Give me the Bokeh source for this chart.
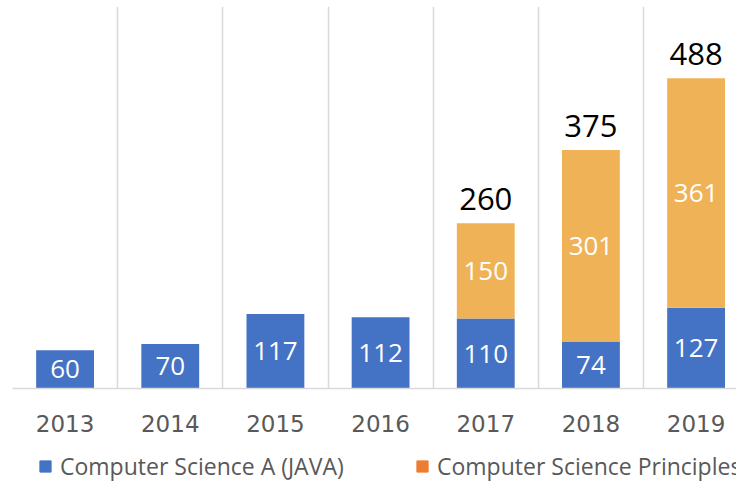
from bokeh.plotting import figure
from bokeh.layouts import column
from bokeh.models import (ColumnDataSource, Range1d, FixedTicker, Legend, LegendItem, LabelSet)
from bokeh.core.properties import value
from bokeh.embed import file_html
from bokeh.resources import INLINE

years = ["2013", "2014", "2015", "2016", "2017", "2018", "2019"]
cs_a = [60, 70, 117, 112, 110, 74, 127]
cs_p = [0, 0, 0, 0, 150, 301, 361]
series_names = ["Computer Science A (JAVA)", "Computer Science Principles"]

BLUE = "#4472C4"
ORANGE_BAR = "#F0B256"
ORANGE_KEY = "#ED7D31"
GRID = "#D9D9D9"
FONT = "Open Sans"

xs = [i + 0.5 for i in range(len(years))]
totals = [a + b for a, b in zip(cs_a, cs_p)]

src = ColumnDataSource(dict(x=xs, a=cs_a, p=cs_p, year=years))

FW, FH = 724, 382
p = figure(frame_width=FW, frame_height=FH, output_backend="svg", toolbar_location=None,
           x_range=Range1d(0, FW / 105.17), y_range=Range1d(0, FH / 0.636),
           min_border_left=12, min_border_right=0, min_border_top=6, min_border_bottom=58)
p.outline_line_color = None
p.background_fill_color = "white"
p.border_fill_color = "white"

rs = p.vbar_stack(["a", "p"], x="x", width=0.55, source=src,
                  color=[BLUE, ORANGE_BAR], line_color=None)

# inside labels
ins_x, ins_y, ins_t = [], [], []
for i, (a, b) in enumerate(zip(cs_a, cs_p)):
    ins_x.append(xs[i]); ins_y.append(a / 2); ins_t.append(str(a))
    if b > 0:
        ins_x.append(xs[i]); ins_y.append(a + b / 2); ins_t.append(str(b))
p.text(x=ins_x, y=ins_y, text=ins_t, text_align="center", text_baseline="middle",
       text_color="white", text_font=value(FONT), text_font_size="26px")

# totals
tot_src = ColumnDataSource(dict(
    x=[xs[i] for i in range(len(years)) if cs_p[i] > 0],
    y=[totals[i] for i in range(len(years)) if cs_p[i] > 0],
    t=[str(totals[i]) for i in range(len(years)) if cs_p[i] > 0]))
p.add_layout(LabelSet(x="x", y="y", text="t", source=tot_src, text_align="center",
                      text_baseline="alphabetic", y_offset=13, text_color="black",
                      text_font=value(FONT), text_font_size="31px"))

# axes
p.yaxis.visible = False
p.xaxis.ticker = FixedTicker(ticks=xs)
p.xaxis.major_label_overrides = {x: y for x, y in zip(xs, years)}
p.xaxis.major_tick_line_color = None
p.xaxis.minor_tick_line_color = None
p.xaxis.major_tick_out = 0
p.xaxis.major_tick_in = 0
p.xaxis.minor_tick_out = 0
p.xaxis.axis_line_color = GRID
p.xaxis.axis_line_width = 1.5
p.xaxis.major_label_text_font = "DejaVu Sans"
p.xaxis.major_label_text_font_size = "23px"
p.xaxis.major_label_text_color = "#595959"
p.xaxis.major_label_standoff = 26

p.ygrid.grid_line_color = None
p.xgrid.ticker = FixedTicker(ticks=list(range(len(years) + 1)))
p.xgrid.grid_line_color = GRID
p.xgrid.grid_line_width = 1.5

# legend strip below the chart
lp = figure(width=736, height=36, output_backend="svg", toolbar_location=None,
            x_range=Range1d(0, 1), y_range=Range1d(0, 1),
            min_border_left=0, min_border_right=0, min_border_top=0, min_border_bottom=0)
lp.axis.visible = False
lp.grid.visible = False
lp.outline_line_color = None
lp.background_fill_color = "white"
lp.border_fill_color = "white"

key_a = lp.vbar(x="x", top="a", width=0.5, source=src, color=BLUE, visible=False)
key_p = lp.vbar(x="x", top="p", width=0.5, source=src, color=ORANGE_KEY, visible=False)

legend = Legend(items=[LegendItem(label=series_names[0], renderers=[key_a]),
                       LegendItem(label=series_names[1], renderers=[key_p])],
                orientation="horizontal", location=(26, 0),
                glyph_width=14, glyph_height=14, label_standoff=8, label_width=300,
                label_text_font=FONT, label_text_font_size="23px",
                label_text_color="#595959", padding=0, margin=0, spacing=55,
                border_line_color=None, background_fill_color=None,
                inactive_fill_alpha=0)
lp.add_layout(legend, "center")

layout = column(p, lp, spacing=0)

open("out.html", "w").write(file_html(layout, INLINE))
